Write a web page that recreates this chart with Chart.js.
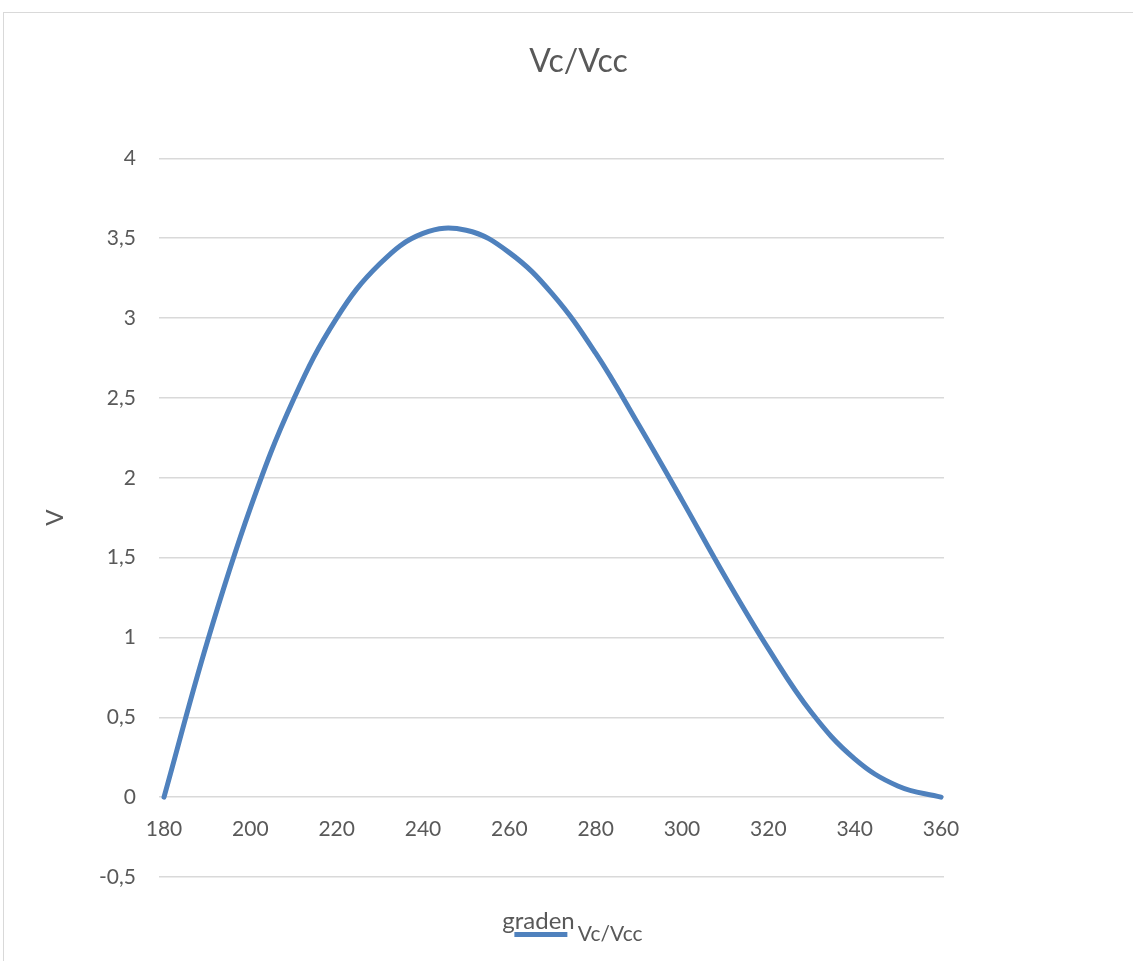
<!DOCTYPE html>
<html>
<head>
<meta charset="utf-8">
<script src="https://cdn.jsdelivr.net/npm/chart.js@4.4.1/dist/chart.umd.min.js"></script>
<style>
  html, body { margin: 0; padding: 0; background: #fff; overflow: hidden; }
  #box {
    position: absolute; left: 3px; top: 12px;
    width: 1129px; height: 948px;
    border: 1px solid #d9d9d9;
  }
</style>
</head>
<body>
<div id="box"><canvas id="vcChart"></canvas></div>
<script>
// degrees (x) and Vc/Vcc values (y)
const graden = [180, 190, 200, 210, 220, 230, 240, 250, 260, 270, 280, 290, 300, 310, 320, 330, 340, 350, 360];
const vcVcc = [0, 0.97, 1.81, 2.49, 3.00, 3.34, 3.53, 3.55, 3.41, 3.15, 2.78, 2.33, 1.86, 1.38, 0.93, 0.53, 0.24, 0.07, 0];
const xTicks = [180, 200, 220, 240, 260, 280, 300, 320, 340, 360];
const yTicks = [-0.5, 0, 0.5, 1, 1.5, 2, 2.5, 3, 3.5, 4];

const textColor = '#595959';
const gridColor = '#d9d9d9';
const lineColor = '#4f81bd';
const fontFamily = 'Lato, "Open Sans", sans-serif';

const points = graden.map((g, i) => ({ x: g, y: vcVcc[i] }));

// the "graden" axis title sits a bit left of the plot centre in the original
const shiftAxisTitle = {
  id: 'shiftAxisTitle',
  afterLayout(chart) {
    const s = chart.scales.x2;
    if (s) s.left -= 26;
  }
};

const ctx = document.getElementById('vcChart');
new Chart(ctx, {
  type: 'scatter',
  data: {
    datasets: [{
      label: 'Vc/Vcc',
      data: points,
      showLine: true,
      borderColor: lineColor,
      backgroundColor: lineColor,
      borderWidth: 5,
      borderCapStyle: 'round',
      borderJoinStyle: 'round',
      pointRadius: 0,
      tension: 0.4
    }]
  },
  options: {
    responsive: true,
    maintainAspectRatio: false,
    animation: false,
    layout: { padding: { left: 20, right: 0, top: 0, bottom: 6 } },
    plugins: {
      title: {
        display: true,
        text: 'Vc/Vcc',
        color: textColor,
        font: { family: fontFamily, size: 32, weight: 'normal' },
        padding: { top: 29, bottom: 78 }
      },
      legend: {
        position: 'bottom',
        labels: {
          color: textColor,
          font: { family: fontFamily, size: 21 },
          usePointStyle: true,
          pointStyle: 'line',
          pointStyleWidth: 53,
          padding: 8
        }
      },
      tooltip: { enabled: false }
    },
    scales: {
      x: {
        type: 'linear',
        position: { y: 0 },
        min: 178.84,
        max: 360.7,
        afterBuildTicks: axis => { axis.ticks = xTicks.map(v => ({ value: v })); },
        grid: { display: false },
        border: { display: false },
        ticks: {
          color: textColor,
          font: { family: fontFamily, size: 21 },
          padding: 11,
          maxRotation: 0
        }
      },
      x2: {
        type: 'linear',
        position: 'bottom',
        grid: { display: false },
        border: { display: false },
        ticks: { display: false },
        title: {
          display: true,
          text: 'graden',
          color: textColor,
          font: { family: fontFamily, size: 24 },
          padding: { top: 0, bottom: -20 }
        },
        afterFit: axis => { axis.height = 39; }
      },
      y: {
        min: -0.5,
        max: 4,
        afterBuildTicks: axis => { axis.ticks = yTicks.map(v => ({ value: v })); },
        grid: { color: gridColor, lineWidth: 1.5, drawTicks: false },
        border: { display: false },
        ticks: {
          color: textColor,
          font: { family: fontFamily, size: 21 },
          padding: 23,
          callback: v => String(v).replace('.', ',')
        },
        title: {
          display: true,
          text: 'V',
          color: textColor,
          font: { family: fontFamily, size: 24 },
          padding: { top: 17, bottom: 0 }
        },
        afterFit: axis => { axis.width = 135; }
      },
      y2: {
        position: 'right',
        grid: { display: false },
        border: { display: false },
        ticks: { display: false },
        afterFit: axis => { axis.width = 189; }
      }
    }
  },
  plugins: [shiftAxisTitle]
});
</script>
</body>
</html>
